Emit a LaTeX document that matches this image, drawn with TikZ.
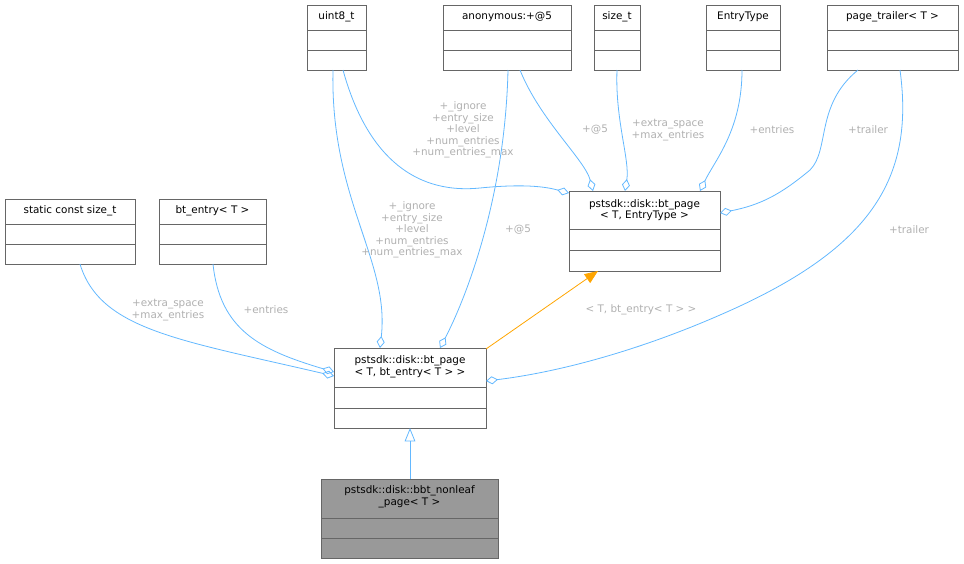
\documentclass[tikz,border=0pt]{standalone}
\usepackage{fontspec}
\setmainfont{DejaVu Sans}
\usetikzlibrary{arrows.meta}
\definecolor{edge}{HTML}{63B8FF}
\definecolor{lab}{HTML}{B0B0B0}
\definecolor{boxline}{HTML}{666666}
\definecolor{inst}{HTML}{FFA500}
\tikzset{
  cls/.style={draw=boxline,inner sep=0pt,anchor=north west},
  agg/.style={draw=edge,line width=0.6pt,-{Diamond[open,length=9pt,width=6pt]}},
  lbl/.style={text=lab,font=\fontsize{7.8}{8.6}\selectfont,align=center},
  ttl/.style={font=\fontsize{7.8}{8.8}\selectfont,align=center,inner sep=0pt}
}
\newcommand{\cls}[8]{%
  \node[cls,minimum width={(#4-#2)*0.75pt},minimum height={(#5-#3)*0.75pt},#8] (#1) at (#2,#3) {};
  \draw[boxline] (#2,#6) -- (#4,#6) (#2,#7) -- (#4,#7);}
\begin{document}
\begin{tikzpicture}[x=0.75pt,y=-0.75pt]
\useasboundingbox (0,0) rectangle (964,564);
\cls{u8}{307}{5}{366}{70}{30}{50}{}
\node[ttl] at (336.5,17) {uint8\_t};
\cls{an}{443}{5}{571}{70}{30}{50}{}
\node[ttl] at (507,17) {anonymous:+@5};
\cls{sz}{594}{5}{640}{70}{30}{50}{}
\node[ttl] at (617,17) {size\_t};
\cls{et}{706}{5}{780}{70}{30}{50}{}
\node[ttl] at (743,17) {EntryType};
\cls{pt}{827}{5}{958}{70}{30}{50}{}
\node[ttl] at (892.5,17) {page\_trailer< T >};
\cls{sc}{5}{199}{135}{264}{224}{244}{}
\node[ttl] at (70,211) {static const size\_t};
\cls{be}{159}{199}{266}{264}{224}{244}{}
\node[ttl] at (212.5,211) {bt\_entry< T >};
\cls{bp}{569}{191}{720}{271}{229}{250}{}
\node[ttl] at (644.5,210) {pstsdk::disk::bt\_page\\< T, EntryType >};
\cls{bb}{334}{348}{486}{428}{387}{408}{}
\node[ttl] at (410,367) {pstsdk::disk::bt\_page\\< T, bt\_entry< T > >};
\cls{nl}{321}{479}{498}{558}{518}{538}{fill=black!40}
\draw[boxline] (321,518) -- (498,518) (321,538) -- (498,538);
\node[ttl] at (409.5,497) {pstsdk::disk::bbt\_nonleaf\\\_page< T >};
% aggregation edges
\draw[agg] (343,70) .. controls (365,150) and (410,195) .. (480,188) .. controls (530,183) and (550,188) .. (569,193);
\node[lbl] at (463,130) {+\_ignore\\+entry\_size\\+level\\+num\_entries\\+num\_entries\_max};
\draw[agg] (333,70) .. controls (330,200) and (390,260) .. (380,348);
\node[lbl] at (412,230) {+\_ignore\\+entry\_size\\+level\\+num\_entries\\+num\_entries\_max};
\draw[agg] (508,70) .. controls (505,200) and (465,300) .. (440,348);
\node[lbl] at (518,230) {+@5};
\draw[agg] (520,70) .. controls (540,120) and (585,160) .. (593,191);
\node[lbl] at (595,130) {+@5};
\draw[agg] (617,70) .. controls (615,120) and (630,160) .. (625,191);
\node[lbl] at (668,130) {+extra\_space\\+max\_entries};
\draw[agg] (742,70) .. controls (742,130) and (715,160) .. (700,191);
\node[lbl] at (772,130) {+entries};
\draw[agg] (858,70) .. controls (815,105) and (830,150) .. (810,170) .. controls (780,195) and (760,205) .. (720,213);
\node[lbl] at (868,130) {+trailer};
\draw[agg] (900,70) .. controls (915,180) and (870,250) .. (720,315) .. controls (640,350) and (560,372) .. (486,381);
\node[lbl] at (909,230) {+trailer};
\draw[agg] (80,264) .. controls (100,330) and (180,340) .. (334,376);
\node[lbl] at (168,310) {+extra\_space\\+max\_entries};
\draw[agg] (213,264) .. controls (220,330) and (260,350) .. (334,372);
\node[lbl] at (266,310) {+entries};
% inheritance
\draw[inst,line width=0.6pt,-{Triangle[length=10pt,width=8pt]}] (486,349) -- (598,271);
\node[lbl] at (641,310) {< T, bt\_entry< T > >};
\draw[edge,line width=0.6pt,-{Triangle[open,length=10pt,width=8pt]}] (410,479) -- (410,428);
\end{tikzpicture}
\end{document}
